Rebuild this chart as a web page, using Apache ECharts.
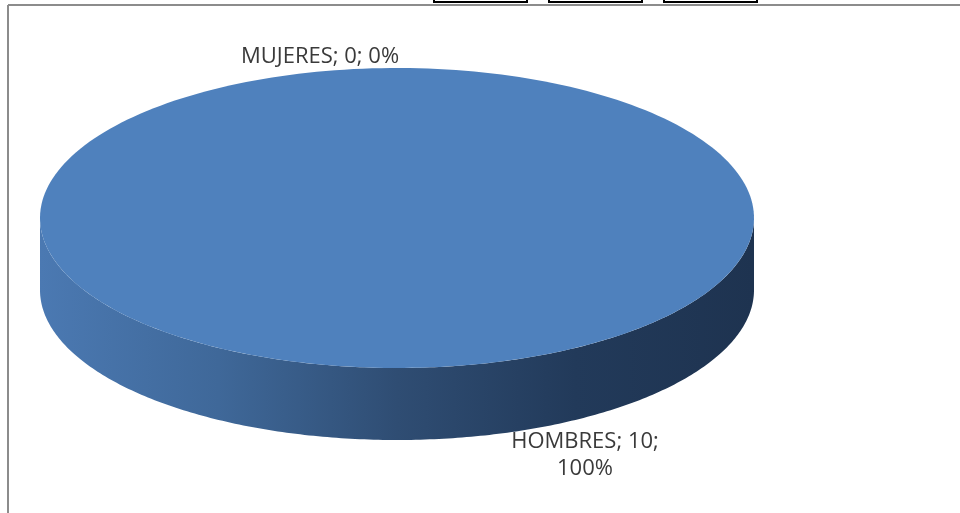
<!DOCTYPE html>
<html>
<head>
<meta charset="utf-8">
<script src="https://cdn.jsdelivr.net/npm/echarts@6/dist/echarts.min.js"></script>
<style>html,body{margin:0;padding:0;background:#fff}#c{width:960px;height:513px}</style>
</head>
<body>
<div id="c"></div>
<script>
var categories = ['MUJERES', 'HOMBRES'];
var values = [0, 10];

var chart = echarts.init(document.getElementById('c'));
var total = values.reduce(function (a, b) { return a + b; }, 0);

// geometry / style (not data)
var geo = { cx: 397, cy: 218, rx: 357, ry: 150, depth: 72, startDeg: -13 };
var labelOffsets = [[-77, -161], [188, 237]];
var topColor = '#4f81bd';

function pt(theta, dy) {
  return [geo.cx + geo.rx * Math.sin(theta), geo.cy - geo.ry * Math.cos(theta) + (dy || 0)];
}

function renderItem(params, api) {
  var idx = params.dataIndex;
  var before = 0;
  for (var i = 0; i < idx; i++) before += values[i];
  var v = api.value(1);
  var a0 = (geo.startDeg * Math.PI / 180) + before / total * 2 * Math.PI;
  var a1 = a0 + v / total * 2 * Math.PI;
  var children = [];
  var N = 240;
  var ranges = [];
  [0, 2 * Math.PI, -2 * Math.PI].forEach(function (s) {
    var s0 = Math.max(a0, Math.PI / 2 + s), s1 = Math.min(a1, 3 * Math.PI / 2 + s);
    if (s1 > s0) ranges.push([s0, s1]);
  });
  ranges.forEach(function (r) {
    var pts = [], j;
    for (j = 0; j <= N; j++) pts.push(pt(r[0] + (r[1] - r[0]) * j / N));
    for (j = N; j >= 0; j--) pts.push(pt(r[0] + (r[1] - r[0]) * j / N, geo.depth));
    children.push({
      type: 'polygon',
      shape: { points: pts },
      style: {
        fill: new echarts.graphic.LinearGradient(geo.cx - geo.rx, 0, geo.cx + geo.rx, 0, [
          { offset: 0, color: '#4b79b2' },
          { offset: 0.25, color: '#3f6899' },
          { offset: 0.5, color: '#2f4d73' },
          { offset: 0.75, color: '#223a5a' },
          { offset: 1, color: '#1e3350' }
        ], true)
      },
      z2: 1
    });
  });
  if (v > 0) {
    var tp = [];
    var full = (a1 - a0) >= 2 * Math.PI - 1e-9;
    if (!full) tp.push([geo.cx, geo.cy]);
    for (var k = 0; k <= N; k++) tp.push(pt(a0 + (a1 - a0) * k / N));
    children.push({ type: 'polygon', shape: { points: tp }, style: { fill: topColor }, z2: 2 });
  }
  var pct = Math.round(v / total * 100);
  var lblText = idx === 1 ? (categories[idx] + '; ' + v + ';\n' + pct + '%') : (categories[idx] + '; ' + v + '; ' + pct + '%');
  children.push({
    type: 'text',
    x: geo.cx + labelOffsets[idx][0],
    y: geo.cy + labelOffsets[idx][1],
    style: {
      text: lblText,
      fill: '#3a3a3a',
      font: '22px "Open Sans", Lato, sans-serif',
      align: 'center',
      verticalAlign: 'middle',
      lineHeight: 27
    },
    z2: 5
  });
  return { type: 'group', children: children };
}

chart.setOption({
  animation: false,
  backgroundColor: '#ffffff',
  graphic: [
    { type: 'line', shape: { x1: 8, y1: 5, x2: 960, y2: 5 }, style: { stroke: '#8c8c8c', lineWidth: 2 } },
    { type: 'line', shape: { x1: 8, y1: 5, x2: 8, y2: 513 }, style: { stroke: '#8c8c8c', lineWidth: 2 } },
    { type: 'rect', shape: { x: 434, y: -4, width: 93, height: 6 }, style: { fill: '#fff', stroke: '#000', lineWidth: 2 } },
    { type: 'rect', shape: { x: 549, y: -4, width: 93, height: 6 }, style: { fill: '#fff', stroke: '#000', lineWidth: 2 } },
    { type: 'rect', shape: { x: 664, y: -4, width: 93, height: 6 }, style: { fill: '#fff', stroke: '#000', lineWidth: 2 } }
  ],
  series: [{
    type: 'custom',
    coordinateSystem: 'none',
    renderItem: renderItem,
    data: categories.map(function (c, i) { return [i, values[i]]; })
  }]
});
</script>
</body>
</html>
